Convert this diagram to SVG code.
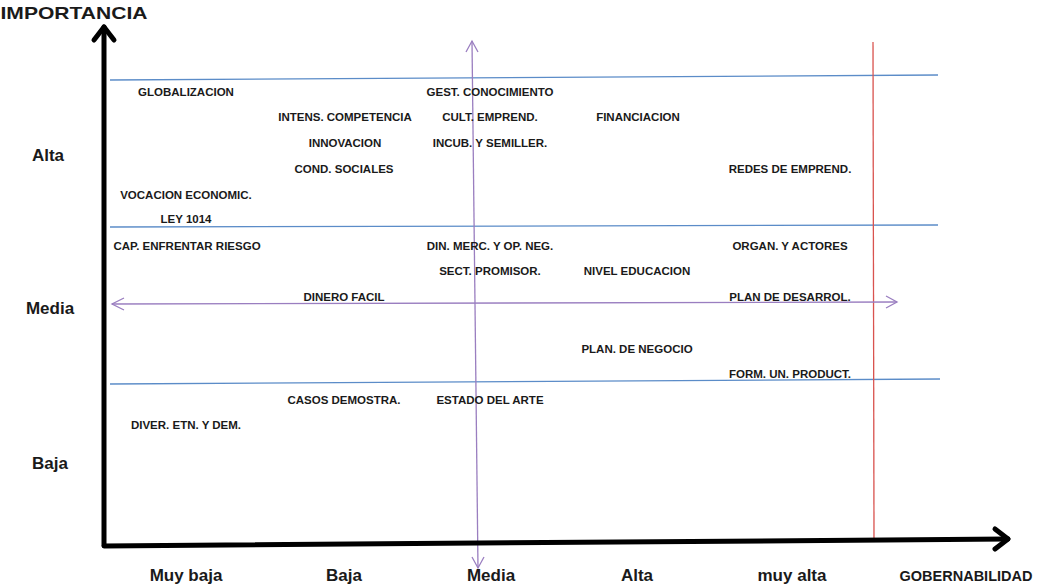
<svg xmlns="http://www.w3.org/2000/svg" width="1045" height="587" viewBox="0 0 1045 587">
<defs>
<style>
.s{font-family:"Liberation Sans",Arial,sans-serif;font-weight:bold;font-size:11.5px;fill:#1a1a1a;text-anchor:middle}
.b{font-family:"Liberation Sans",Arial,sans-serif;font-weight:bold;font-size:17px;fill:#1a1a1a;text-anchor:middle}
.blue{stroke:#5b8cc8;stroke-width:1.3;fill:none}
.pur{stroke:#9a7ec0;stroke-width:1.3;fill:none}
.ax{stroke:#000;stroke-width:5;fill:none;stroke-linecap:round;stroke-linejoin:round}
</style>
</defs>
<rect width="1045" height="587" fill="#fff"/>
<g id="connectors">
<line class="blue" x1="110" y1="80" x2="938" y2="75"/>
<line class="blue" x1="110" y1="227" x2="938" y2="225"/>
<line class="blue" x1="110" y1="384" x2="940" y2="379"/>
<line x1="873" y1="42" x2="874" y2="538" stroke="#d9534f" stroke-width="1.3"/>
<line class="pur" x1="472" y1="41" x2="478" y2="568"/>
<polyline class="pur" points="466,52 472,41 478,52"/>
<polyline class="pur" points="472,557 478,568 484,557"/>
<line class="pur" x1="112" y1="304" x2="897" y2="302"/>
<polyline class="pur" points="124,298 112,304 124,310"/>
<polyline class="pur" points="886,296 897,302 886,308"/>
<line class="ax" x1="104" y1="545" x2="104" y2="27"/>
<polyline class="ax" points="94,40 104,27 114,40"/>
<line class="ax" x1="104" y1="546" x2="1008" y2="539"/>
<polyline class="ax" points="995,529 1008,539 995,549"/>
</g>
<g id="axis-labels">
<text class="b" x="74" y="19" textLength="147" lengthAdjust="spacingAndGlyphs">IMPORTANCIA</text>
<text class="b" x="48" y="161">Alta</text>
<text class="b" x="50" y="314">Media</text>
<text class="b" x="50" y="469">Baja</text>
<text class="b" x="186" y="581">Muy baja</text>
<text class="b" x="344" y="581">Baja</text>
<text class="b" x="491" y="581">Media</text>
<text class="b" x="637" y="581">Alta</text>
<text class="b" x="792" y="581">muy alta</text>
<text class="b" x="966" y="581" style="font-size:14.5px">GOBERNABILIDAD</text>
</g>
<g id="n1"><text class="s" x="186" y="96">GLOBALIZACION</text></g>
<g id="n2"><text class="s" x="490" y="96">GEST. CONOCIMIENTO</text></g>
<g id="n3"><text class="s" x="345" y="121">INTENS. COMPETENCIA</text></g>
<g id="n4"><text class="s" x="490" y="121">CULT. EMPREND.</text></g>
<g id="n5"><text class="s" x="638" y="121">FINANCIACION</text></g>
<g id="n6"><text class="s" x="345" y="147">INNOVACION</text></g>
<g id="n7"><text class="s" x="490" y="147">INCUB. Y SEMILLER.</text></g>
<g id="n8"><text class="s" x="344" y="173">COND. SOCIALES</text></g>
<g id="n9"><text class="s" x="790" y="173">REDES DE EMPREND.</text></g>
<g id="n10"><text class="s" x="186" y="199">VOCACION ECONOMIC.</text></g>
<g id="n11"><text class="s" x="186" y="223">LEY 1014</text></g>
<g id="n12"><text class="s" x="187" y="250">CAP. ENFRENTAR RIESGO</text></g>
<g id="n13"><text class="s" x="490" y="250">DIN. MERC. Y OP. NEG.</text></g>
<g id="n14"><text class="s" x="790" y="250">ORGAN. Y ACTORES</text></g>
<g id="n15"><text class="s" x="490" y="275">SECT. PROMISOR.</text></g>
<g id="n16"><text class="s" x="637" y="275">NIVEL EDUCACION</text></g>
<g id="n17"><text class="s" x="344" y="301">DINERO FACIL</text></g>
<g id="n18"><text class="s" x="790" y="301">PLAN DE DESARROL.</text></g>
<g id="n19"><text class="s" x="637" y="353">PLAN. DE NEGOCIO</text></g>
<g id="n20"><text class="s" x="790" y="378">FORM. UN. PRODUCT.</text></g>
<g id="n21"><text class="s" x="344" y="404">CASOS DEMOSTRA.</text></g>
<g id="n22"><text class="s" x="490" y="404">ESTADO DEL ARTE</text></g>
<g id="n23"><text class="s" x="186" y="429">DIVER. ETN. Y DEM.</text></g>
</svg>
